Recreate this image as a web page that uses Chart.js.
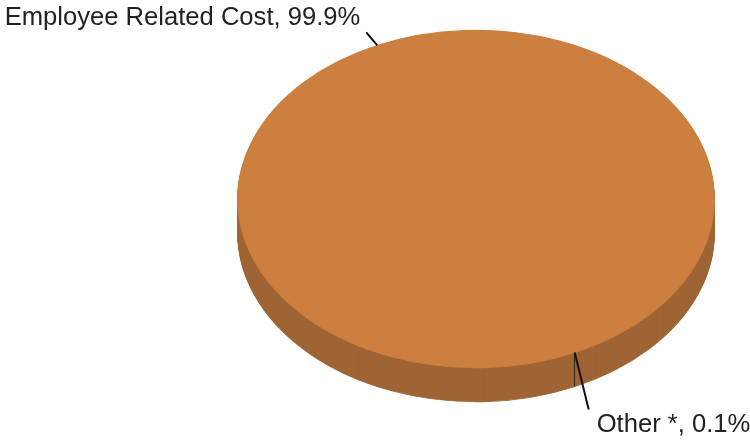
<!DOCTYPE html>
<html>
<head>
<meta charset="utf-8">
<script src="https://cdn.jsdelivr.net/npm/chart.js@4/dist/chart.umd.min.js"></script>
<style>
html,body{margin:0;padding:0;background:#fff;}
#wrap{width:750px;height:443px;position:relative;}
</style>
</head>
<body>
<div id="wrap"><canvas id="c" width="750" height="443"></canvas></div>
<script>
// ---- data ----
const categories = ['Employee Related Cost', 'Other *'];
const shares = [99.9, 0.1];
const labelText = ['Employee Related Cost, 99.9%', 'Other *, 0.1%'];

// ---- style ----
const topColors = ['#CC7F3F', '#CC7F3F'];
const sideColors = ['#9F6535', '#151515'];
const SX = 1.2, SY = 0.85, DEPTH = 34;
const labelStyle = [
  {dx: -11, dy: -13, tx: -6, ty: -7, align: 'right'},
  {dx: 14, dy: 57, tx: 8, ty: 22, align: 'left'}
];

function applyEllipse(ctx, cx, cy) {
  ctx.translate(cx, cy);
  ctx.scale(SX, SY);
  ctx.translate(-cx, -cy);
}

const pie3d = {
  id: 'pie3d',
  beforeDatasetsDraw(chart) {
    const ctx = chart.ctx;
    const meta = chart.getDatasetMeta(0);
    const cx = meta.data[0].x, cy = meta.data[0].y;
    for (let d = DEPTH; d >= 1; d--) {
      ctx.save();
      ctx.translate(0, d);
      applyEllipse(ctx, cx, cy);
      meta.data.forEach((arc, i) => {
        const o = arc.options;
        const bg = o.backgroundColor, bc = o.borderColor, bw = o.borderWidth;
        o.backgroundColor = sideColors[i];
        o.borderColor = sideColors[i];
        o.borderWidth = i === 0 ? 1 : 0;
        arc.draw(ctx);
        o.backgroundColor = bg; o.borderColor = bc; o.borderWidth = bw;
      });
      ctx.restore();
    }
    ctx.save();
    applyEllipse(ctx, cx, cy);
  },
  afterDatasetsDraw(chart) {
    chart.ctx.restore();
  },
  afterDraw(chart) {
    const ctx = chart.ctx;
    const meta = chart.getDatasetMeta(0);
    meta.data.forEach((arc, i) => {
      const cx = arc.x, cy = arc.y, R = arc.outerRadius;
      const mid = (arc.startAngle + arc.endAngle) / 2;
      const ex = cx + R * Math.cos(mid) * SX;
      const ey = cy + R * Math.sin(mid) * SY;
      const s = labelStyle[i];
      const lx = ex + s.dx, ly = ey + s.dy;
      ctx.save();
      ctx.strokeStyle = '#111';
      ctx.lineWidth = 2;
      ctx.beginPath();
      ctx.moveTo(ex, ey);
      ctx.lineTo(lx, ly);
      ctx.stroke();
      ctx.fillStyle = '#222';
      ctx.font = '25.6px "Liberation Sans", Arial, sans-serif';
      ctx.textAlign = s.align;
      ctx.textBaseline = 'alphabetic';
      ctx.fillText(labelText[i], lx + s.tx, ly + s.ty);
      ctx.restore();
    });
  }
};

new Chart(document.getElementById('c'), {
  type: 'pie',
  data: {
    labels: categories,
    datasets: [{
      data: shares,
      backgroundColor: topColors,
      borderColor: topColors,
      borderWidth: 1
    }]
  },
  options: {
    responsive: false,
    animation: false,
    rotation: 155.7,
    layout: {padding: {left: 202, right: 0, top: 0, bottom: 45}},
    plugins: {legend: {display: false}, tooltip: {enabled: false}}
  },
  plugins: [pie3d]
});
</script>
</body>
</html>
